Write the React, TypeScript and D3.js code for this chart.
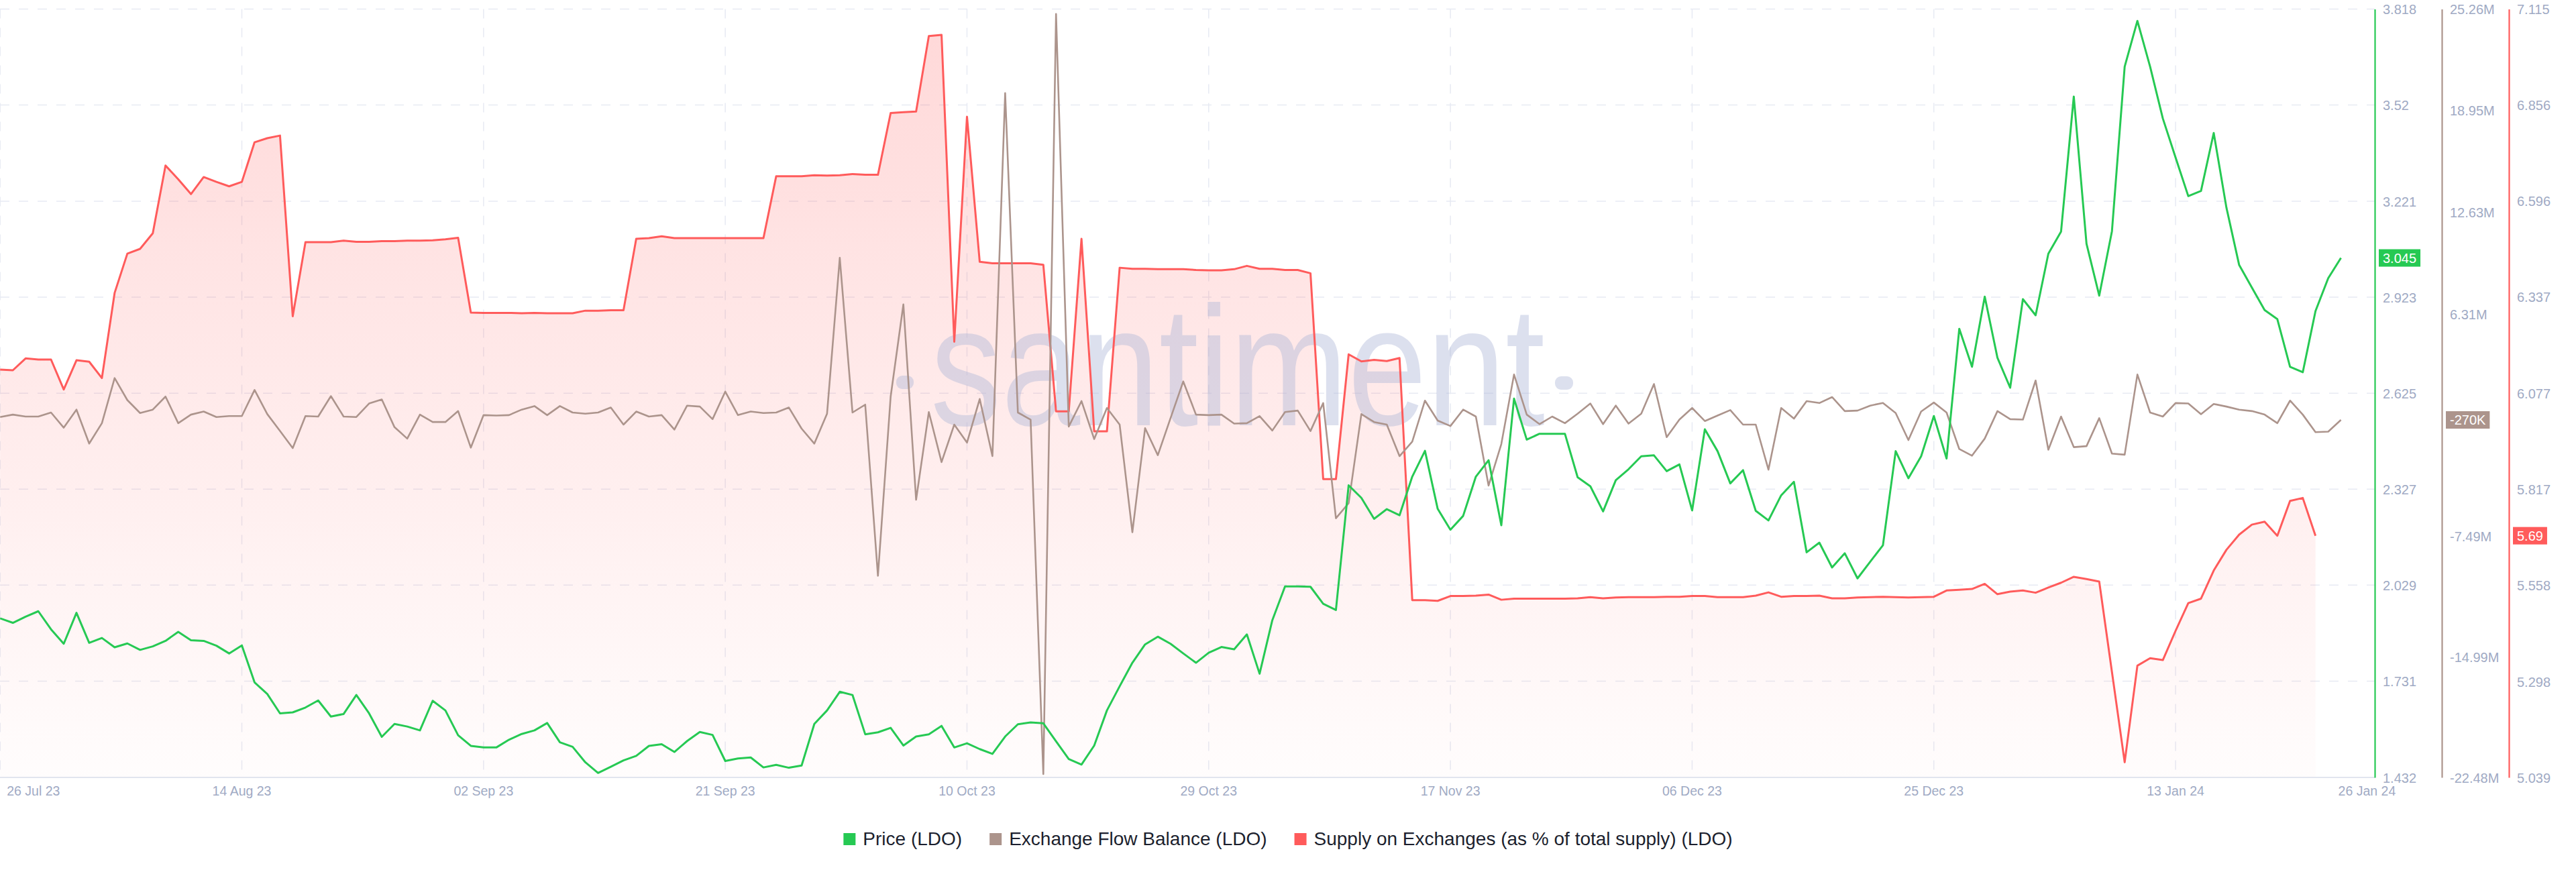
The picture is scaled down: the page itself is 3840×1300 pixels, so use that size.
import React, { useEffect, useRef } from 'react';
import * as d3 from 'd3';

// ---------------- DATA ----------------
const START_DATE = '2023-07-26';
const END_DATE = '2024-01-26';

// Price (LDO), USD, daily from 26 Jul 23
const priceValues = [
  1.926, 1.912, 1.931, 1.948, 1.892, 1.847, 1.943, 1.850, 1.865, 1.836, 1.848, 1.828, 1.839, 1.856, 1.884, 1.858,
  1.856, 1.841, 1.817, 1.842, 1.727, 1.691, 1.631, 1.634, 1.649, 1.671, 1.621, 1.629, 1.688, 1.631, 1.558, 1.598,
  1.590, 1.578, 1.670, 1.640, 1.563, 1.530, 1.525, 1.525, 1.549, 1.567, 1.578, 1.601, 1.541, 1.527, 1.479, 1.446,
  1.465, 1.485, 1.499, 1.530, 1.535, 1.511, 1.545, 1.573, 1.564, 1.483, 1.491, 1.494, 1.463, 1.471, 1.462, 1.469,
  1.598, 1.640, 1.698, 1.688, 1.566, 1.572, 1.586, 1.531, 1.559, 1.566, 1.592, 1.525, 1.538, 1.520, 1.505, 1.559,
  1.597, 1.603, 1.600, 1.544, 1.489, 1.472, 1.531, 1.640, 1.715, 1.788, 1.845, 1.869, 1.847, 1.817, 1.788, 1.819,
  1.837, 1.830, 1.876, 1.754, 1.920, 2.025, 2.025, 2.024, 1.971, 1.952, 2.339, 2.300, 2.235, 2.265, 2.246, 2.366,
  2.446, 2.266, 2.201, 2.244, 2.366, 2.417, 2.215, 2.608, 2.481, 2.499, 2.499, 2.499, 2.364, 2.336, 2.258, 2.355,
  2.389, 2.429, 2.432, 2.383, 2.404, 2.261, 2.513, 2.445, 2.345, 2.386, 2.260, 2.230, 2.308, 2.350, 2.131, 2.161,
  2.084, 2.128, 2.050, 2.102, 2.153, 2.445, 2.361, 2.429, 2.554, 2.422, 2.825, 2.707, 2.925, 2.735, 2.642, 2.917,
  2.867, 3.058, 3.127, 3.546, 3.089, 2.928, 3.128, 3.639, 3.781, 3.639, 3.478, 3.357, 3.237, 3.253, 3.433, 3.201,
  3.023, 2.953, 2.883, 2.855, 2.707, 2.690, 2.880, 2.982, 3.045,
];

// Exchange Flow Balance (LDO), millions, daily from 26 Jul 23
const flowValues = [
  -0.09, 0.06, -0.06, -0.06, 0.19, -0.75, 0.37, -1.74, -0.47, 2.33, 0.96, 0.16, 0.37, 1.18, -0.47, 0.06,
  0.25, -0.09, -0.03, -0.03, 1.59, 0.09, -0.96, -2.02, -0.03, -0.06, 1.21, -0.06, -0.09, 0.75, 1.00, -0.72,
  -1.43, 0.06, -0.40, -0.40, 0.28, -1.99, 0.03, 0.00, 0.03, 0.37, 0.59, 0.03, 0.59, 0.19, 0.12, 0.19,
  0.50, -0.56, 0.25, -0.06, 0.03, -0.87, 0.62, 0.56, -0.22, 1.49, 0.03, 0.25, 0.16, 0.19, 0.50, -0.81,
  -1.74, 0.12, 9.80, 0.19, 0.68, -9.95, 1.18, 6.91, -5.23, 0.22, -2.89, -0.56, -1.68, 1.03, -2.52, 20.03,
  0.19, -0.25, -22.27, 24.95, -0.68, 0.90, -1.46, 0.47, -0.56, -7.25, -0.78, -2.46, -0.16, 2.12, 0.06, 0.03,
  0.06, -0.50, -0.47, -0.03, -0.93, 0.22, 0.31, -0.96, 0.78, -6.38, -5.44, 0.09, -0.40, -0.56, -2.52, -1.62,
  0.93, -0.31, -0.65, 0.37, -0.06, -4.35, -1.77, 2.55, 0.06, -0.53, -0.06, -0.47, 0.12, 0.75, -0.53, 0.62,
  -0.50, 0.12, 1.96, -1.34, -0.25, 0.47, -0.34, 0.00, 0.34, -0.56, -0.56, -3.36, 0.47, -0.19, 0.90, 0.78,
  1.15, 0.28, 0.31, 0.62, 0.78, 0.16, -1.52, 0.25, 0.81, 0.19, -2.08, -2.49, -1.43, 0.28, -0.22, -0.25,
  2.18, -2.12, -0.06, -1.96, -1.90, -0.16, -2.36, -2.43, 2.55, 0.19, -0.06, 0.78, 0.75, 0.09, 0.72, 0.56,
  0.37, 0.28, 0.06, -0.47, 0.93, 0.06, -1.03, -1.00, -0.27,
];

// Supply on Exchanges (as % of total supply) (LDO), daily from 26 Jul 23
const supplyValues = [
  6.141, 6.139, 6.171, 6.168, 6.168, 6.087, 6.166, 6.162, 6.118, 6.348, 6.454, 6.467, 6.509, 6.692, 6.655, 6.615,
  6.661, 6.648, 6.636, 6.648, 6.755, 6.766, 6.773, 6.285, 6.485, 6.485, 6.485, 6.489, 6.486, 6.486, 6.488, 6.488,
  6.489, 6.489, 6.490, 6.493, 6.497, 6.295, 6.294, 6.294, 6.294, 6.293, 6.294, 6.293, 6.293, 6.293, 6.300, 6.300,
  6.301, 6.301, 6.494, 6.496, 6.501, 6.496, 6.496, 6.496, 6.496, 6.496, 6.496, 6.496, 6.496, 6.663, 6.663, 6.663,
  6.666, 6.665, 6.666, 6.669, 6.667, 6.667, 6.834, 6.836, 6.838, 7.042, 7.045, 6.216, 6.824, 6.432, 6.428, 6.428,
  6.428, 6.428, 6.424, 6.028, 6.028, 6.494, 5.974, 5.974, 6.416, 6.413, 6.413, 6.412, 6.412, 6.412, 6.410, 6.409,
  6.409, 6.412, 6.421, 6.413, 6.413, 6.410, 6.410, 6.401, 5.845, 5.845, 6.182, 6.163, 6.167, 6.164, 6.172, 5.518,
  5.518, 5.516, 5.529, 5.529, 5.530, 5.533, 5.519, 5.522, 5.522, 5.522, 5.522, 5.522, 5.523, 5.526, 5.523, 5.525,
  5.526, 5.526, 5.526, 5.527, 5.527, 5.529, 5.529, 5.526, 5.526, 5.526, 5.530, 5.539, 5.527, 5.529, 5.529, 5.530,
  5.523, 5.523, 5.525, 5.526, 5.527, 5.526, 5.525, 5.526, 5.527, 5.544, 5.546, 5.548, 5.562, 5.534, 5.541, 5.544,
  5.538, 5.552, 5.565, 5.581, 5.575, 5.568, 5.324, 5.080, 5.341, 5.361, 5.356, 5.435, 5.510, 5.522, 5.598, 5.654,
  5.695, 5.722, 5.730, 5.692, 5.786, 5.794, 5.692,
];

// Axis ticks
const priceTicks = [3.818, 3.52, 3.221, 2.923, 2.625, 2.327, 2.029, 1.731, 1.432];
const priceTickLabels = ['3.818', '3.52', '3.221', '2.923', '2.625', '2.327', '2.029', '1.731', '1.432'];
const flowTicks = [25.26, 18.95, 12.63, 6.31, -7.49, -14.99, -22.48];
const flowTickLabels = ['25.26M', '18.95M', '12.63M', '6.31M', '-7.49M', '-14.99M', '-22.48M'];
const supplyTicks = [7.115, 6.856, 6.596, 6.337, 6.077, 5.817, 5.558, 5.298, 5.039];
const supplyTickLabels = ['7.115', '6.856', '6.596', '6.337', '6.077', '5.817', '5.558', '5.298', '5.039'];
const dateTicks = ['2023-07-26', '2023-08-14', '2023-09-02', '2023-09-21', '2023-10-10', '2023-10-29', '2023-11-17', '2023-12-06', '2023-12-25', '2024-01-13'];
const dateTickLabels = ['26 Jul 23', '14 Aug 23', '02 Sep 23', '21 Sep 23', '10 Oct 23', '29 Oct 23', '17 Nov 23', '06 Dec 23', '25 Dec 23', '13 Jan 24'];
const lastDateLabel = '26 Jan 24';

const badgeLabels = { price: '3.045', flow: '-270K', supply: '5.69' };

const seriesNames = ['Price (LDO)', 'Exchange Flow Balance (LDO)', 'Supply on Exchanges (as % of total supply) (LDO)'];
const seriesColors = ['#26C953', '#AC948C', '#FF5B5B'];

// ---------------- LAYOUT ----------------
const W = 3840;
const H = 1300;
const TOP = 13.4;
const BOTTOM = 1159;
const X0 = 0.2;
const X1 = 3489.6;
const GRID_RIGHT = 3540;
const AXIS_X = [3540, 3640, 3740];
const FONT = "'Liberation Sans', Arial, sans-serif";
const AXIS_COLOR = '#9FAAC4';
const GRID_COLOR = '#E7EAF3';

export default function App() {
  const ref = useRef<SVGSVGElement>(null);

  useEffect(() => {
    document.body.style.margin = '0';
    const svg = d3.select(ref.current);
    svg.selectAll('*').remove();

    const parse = d3.utcParse('%Y-%m-%d');
    const start = parse(START_DATE) as Date;
    const end = parse(END_DATE) as Date;

    const x = d3.scaleUtc().domain([start, end]).range([X0, X1]);
    const yPrice = d3.scaleLinear().domain([1.432, 3.818]).range([BOTTOM, TOP]);
    const yFlow = d3.scaleLinear().domain([-22.48, 25.26]).range([BOTTOM, TOP]);
    const ySupply = d3.scaleLinear().domain([5.039, 7.115]).range([BOTTOM, TOP]);

    const price = priceValues.map((v, i) => ({ date: d3.utcDay.offset(start, i), v }));
    const flow = flowValues.map((v, i) => ({ date: d3.utcDay.offset(start, i), v }));
    const supply = supplyValues.map((v, i) => ({ date: d3.utcDay.offset(start, i), v }));

    svg.append('rect').attr('width', W).attr('height', H).attr('fill', '#ffffff');

    const defs = svg.append('defs');
    const grad = defs.append('linearGradient')
      .attr('id', 'supplyFill')
      .attr('gradientUnits', 'userSpaceOnUse')
      .attr('x1', 0).attr('y1', TOP).attr('x2', 0).attr('y2', BOTTOM);
    grad.append('stop').attr('offset', '0%').attr('stop-color', '#FF5B5B').attr('stop-opacity', 0.24);
    grad.append('stop').attr('offset', '100%').attr('stop-color', '#FF5B5B').attr('stop-opacity', 0.015);

    // grid
    const grid = svg.append('g');
    grid.selectAll('line.h').data(priceTicks).join('line')
      .attr('x1', 0).attr('x2', GRID_RIGHT)
      .attr('y1', (d) => yPrice(d)).attr('y2', (d) => yPrice(d))
      .attr('stroke', GRID_COLOR).attr('stroke-width', 1.5).attr('stroke-dasharray', '14 14');
    grid.selectAll('line.v').data(dateTicks).join('line')
      .attr('x1', (d) => x(parse(d) as Date)).attr('x2', (d) => x(parse(d) as Date))
      .attr('y1', TOP).attr('y2', BOTTOM)
      .attr('stroke', GRID_COLOR).attr('stroke-width', 1.5).attr('stroke-dasharray', '14 14');

    // supply area
    const area = d3.area<{ date: Date; v: number }>()
      .x((d) => x(d.date)).y0(BOTTOM).y1((d) => ySupply(d.v));
    svg.append('path').datum(supply).attr('d', area).attr('fill', 'url(#supplyFill)');

    // watermark
    const wm = svg.append('g').attr('fill', '#AEB7D8').attr('opacity', 0.42);
    wm.append('text')
      .attr('x', 1387).attr('y', 634)
      .attr('font-family', FONT).attr('font-size', 255)
      .attr('textLength', 916).attr('lengthAdjust', 'spacingAndGlyphs')
      .text('santiment');
    wm.append('rect').attr('x', 1336).attr('y', 560).attr('width', 26).attr('height', 20).attr('rx', 9);
    wm.append('rect').attr('x', 2318).attr('y', 561).attr('width', 27).attr('height', 20).attr('rx', 9);

    // bottom axis line
    svg.append('line').attr('x1', 0).attr('x2', GRID_RIGHT).attr('y1', BOTTOM).attr('y2', BOTTOM)
      .attr('stroke', '#E1E5EF').attr('stroke-width', 2);

    // lines
    const line = (ys: d3.ScaleLinear<number, number>) =>
      d3.line<{ date: Date; v: number }>().x((d) => x(d.date)).y((d) => ys(d.v));
    svg.append('path').datum(supply).attr('d', line(ySupply)).attr('fill', 'none')
      .attr('stroke', seriesColors[2]).attr('stroke-width', 3).attr('stroke-linejoin', 'round');
    svg.append('path').datum(flow).attr('d', line(yFlow)).attr('fill', 'none')
      .attr('stroke', seriesColors[1]).attr('stroke-width', 2.6).attr('stroke-linejoin', 'round');
    svg.append('path').datum(price).attr('d', line(yPrice)).attr('fill', 'none')
      .attr('stroke', seriesColors[0]).attr('stroke-width', 3).attr('stroke-linejoin', 'round');

    // date labels
    const dl = svg.append('g').attr('font-family', FONT).attr('font-size', 19.5).attr('fill', AXIS_COLOR);
    dateTicks.forEach((d, i) => {
      const px = x(parse(d) as Date);
      dl.append('text')
        .attr('x', i === 0 ? px + 10 : px)
        .attr('y', 1186)
        .attr('text-anchor', i === 0 ? 'start' : 'middle')
        .text(dateTickLabels[i]);
    });
    dl.append('text').attr('x', x(end) - 4).attr('y', 1186).attr('text-anchor', 'start').text(lastDateLabel);

    // right axes
    const axes: [d3.ScaleLinear<number, number>, number[], string[], string][] = [
      [yPrice, priceTicks, priceTickLabels, seriesColors[0]],
      [yFlow, flowTicks, flowTickLabels, seriesColors[1]],
      [ySupply, supplyTicks, supplyTickLabels, seriesColors[2]],
    ];
    axes.forEach(([scale, ticks, labels, color], k) => {
      const g = svg.append('g').attr('transform', `translate(${AXIS_X[k]},0)`);
      g.call(
        d3.axisRight(scale).tickValues(ticks).tickSize(0).tickSizeOuter(0).tickPadding(12)
          .tickFormat((_, i) => labels[i])
      );
      g.select('.domain').attr('stroke', color).attr('stroke-width', 2.2);
      g.selectAll('text').attr('font-family', FONT).attr('font-size', 20).attr('fill', AXIS_COLOR).attr('dy', '0.35em');
    });

    // value badges
    const badges: [number, string, string][] = [
      [yPrice(priceValues[priceValues.length - 1]), badgeLabels.price, seriesColors[0]],
      [yFlow(flowValues[flowValues.length - 1]), badgeLabels.flow, seriesColors[1]],
      [ySupply(supplyValues[supplyValues.length - 1]), badgeLabels.supply, seriesColors[2]],
    ];
    badges.forEach(([py, label, color], k) => {
      const g = svg.append('g');
      const t = g.append('text')
        .attr('x', AXIS_X[k] + 12).attr('y', py).attr('dy', '0.35em')
        .attr('font-family', FONT).attr('font-size', 20).attr('fill', '#ffffff').text(label);
      const w = (t.node() as SVGTextElement).getComputedTextLength();
      g.insert('rect', 'text')
        .attr('x', AXIS_X[k] + 6).attr('y', py - 13).attr('width', w + 12).attr('height', 26)
        .attr('fill', color);
    });

    // legend
    const lg = svg.append('g').attr('font-family', FONT).attr('font-size', 28).attr('fill', '#1C1F2E');
    const widths: number[] = [];
    const texts = seriesNames.map((name) => {
      const t = lg.append('text').attr('y', 1260).text(name);
      widths.push((t.node() as SVGTextElement).getComputedTextLength());
      return t;
    });
    const SQ = 18, GAP1 = 11, GAP2 = 41;
    const total = d3.sum(widths) + seriesNames.length * (SQ + GAP1) + GAP2 * (seriesNames.length - 1);
    let cx = W / 2 - total / 2;
    seriesNames.forEach((_, i) => {
      lg.append('rect').attr('x', cx).attr('y', 1242).attr('width', SQ).attr('height', SQ).attr('fill', seriesColors[i]);
      texts[i].attr('x', cx + SQ + GAP1);
      cx += SQ + GAP1 + widths[i] + GAP2;
    });
  }, []);

  return (
    <svg
      ref={ref}
      width={W}
      height={H}
      style={{ position: 'absolute', left: 0, top: 0, display: 'block' }}
    />
  );
}
